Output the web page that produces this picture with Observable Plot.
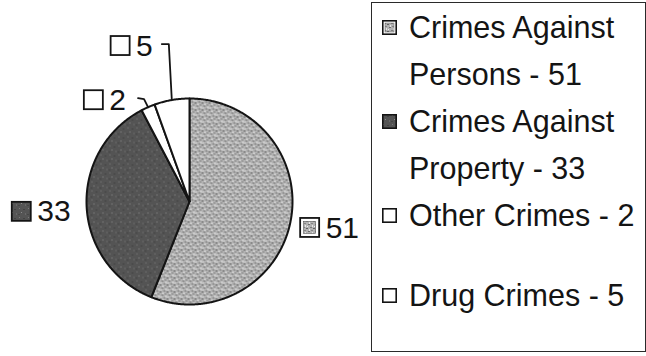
<!DOCTYPE html>
<html><head><meta charset="utf-8">
<script src="https://cdn.jsdelivr.net/npm/d3@7"></script>
<script src="https://cdn.jsdelivr.net/npm/@observablehq/plot@0.6"></script>
<style>
html,body{margin:0;padding:0;background:#fff;}
#wrap{position:relative;width:646px;height:356px;overflow:hidden;font-family:"Liberation Sans",Arial,sans-serif;color:#141414;}
#chart{position:absolute;left:0;top:0;}
#legend{position:absolute;left:371px;top:2px;width:275px;height:350px;box-sizing:border-box;border:1.6px solid #2a2a2a;}
.item{position:absolute;left:0;right:0;font-size:30.5px;line-height:47px;}
.sw{position:absolute;left:10px;top:16px;}
.txt{position:absolute;left:37px;top:0;white-space:pre;}
</style></head>
<body>
<svg width="0" height="0" style="position:absolute">
  <defs>
    <pattern id="persons" patternUnits="userSpaceOnUse" width="7" height="7">
      <rect width="7" height="7" fill="#b2b2b2"/>
      <rect x="0" y="0" width="2" height="1" fill="#6e6e6e"/>
      <rect x="4" y="1" width="1" height="2" fill="#e4e4e4"/>
      <rect x="2" y="3" width="2" height="1" fill="#7c7c7c"/>
      <rect x="5" y="4" width="2" height="1" fill="#626262"/>
      <rect x="1" y="5" width="1" height="2" fill="#e6e6e6"/>
      <rect x="3" y="6" width="2" height="1" fill="#858585"/>
      <rect x="6" y="2" width="1" height="1" fill="#efefef"/>
    </pattern>
    <pattern id="property" patternUnits="userSpaceOnUse" width="9" height="9">
      <rect width="9" height="9" fill="#545454"/>
      <rect x="1" y="1" width="1" height="1" fill="#7a7a7a"/>
      <rect x="5" y="2" width="2" height="1" fill="#424242"/>
      <rect x="3" y="5" width="1" height="1" fill="#8c8c8c"/>
      <rect x="7" y="6" width="1" height="2" fill="#686868"/>
      <rect x="0" y="7" width="2" height="1" fill="#454545"/>
    </pattern>
  </defs>
</svg>
<div id="wrap">
  <div id="chart"></div>
  <div id="legend"></div>
</div>
<script>
// ---- data ----
const categories = ["Crimes Against Persons", "Crimes Against Property", "Other Crimes", "Drug Crimes"];
const values = [51, 33, 2, 5];
const legendLabels = ["Crimes Against\nPersons - 51", "Crimes Against\nProperty - 33", "Other Crimes - 2", "Drug Crimes - 5"];
const sliceFills = ["url(#persons)", "url(#property)", "#ffffff", "#ffffff"];

// ---- layout ----
const W = 370, H = 356, R = 103, CX = 189, CY = 201;
const FONT = 30, SW = 19, GAP = 6;
const INK = "#141414";
// pixel offsets for each pie label relative to the slice's mid-arc point
const labelLayout = [
  {anchor: "start", dx: 10, dy: 7, leader: null},
  {anchor: "end", dx: -16, dy: 5, leader: null},
  {anchor: "end", dx: -12, dy: 2, leader: [[-4, -8], [-10, -9]]},
  {anchor: "end", dx: -9, dy: 2, leader: [[-3, -56], [-10, -56]]}
];
const legendTops = [0.6, 94.6, 188.6, 268.6];

const ctx = document.createElement("canvas").getContext("2d");
ctx.font = `${FONT}px "Liberation Sans", Arial, sans-serif`;

const arcs = d3.pie().sort(null).value(d => d)(values);

// slice polygons in unit-radius coordinates (y up)
const slicePts = [];
arcs.forEach((a, i) => {
  slicePts.push({k: i, x: 0, y: 0});
  const n = Math.max(2, Math.ceil((a.endAngle - a.startAngle) / (Math.PI / 360)));
  for (let j = 0; j <= n; j++) {
    const t = a.startAngle + (a.endAngle - a.startAngle) * j / n;
    slicePts.push({k: i, x: Math.sin(t), y: Math.cos(t)});
  }
  slicePts.push({k: i, x: 0, y: 0});
});

// labels
const px = v => v / R;        // pixel -> data (x)
const py = v => -v / R;       // pixel (down) -> data (y up)
const labels = [], swatches = [], leaders = [];
arcs.forEach((a, i) => {
  const mid = (a.startAngle + a.endAngle) / 2;
  const ax = Math.sin(mid), ay = Math.cos(mid);
  const L = labelLayout[i];
  let bx = ax, by = ay;
  if (L.leader) {
    leaders.push({k: i, x: ax, y: ay});
    L.leader.forEach(([dx, dy]) => leaders.push({k: i, x: ax + px(dx), y: ay + py(dy)}));
    const last = L.leader[L.leader.length - 1];
    bx = ax + px(last[0]); by = ay + py(last[1]);
  }
  const txt = String(values[i]);
  const w = ctx.measureText(txt).width;
  const refX = bx + px(L.dx), refY = by + py(L.dy);
  let sx1, tx;
  if (L.anchor === "start") { sx1 = refX; tx = refX + px(SW + GAP); }
  else { tx = refX - px(w); sx1 = tx - px(GAP + SW); }
  labels.push({k: i, x: tx, y: refY, text: txt});
  // y1 = bottom, y2 = top (y axis points up)
  swatches.push({k: i, x1: sx1, x2: sx1 + px(SW), y1: refY - SW / 2 / R, y2: refY + SW / 2 / R, fill: sliceFills[i]});
});

const inset = 3.5 / R;
const inner = swatches.filter(s => s.k === 0).map(s => ({...s, x1: s.x1 + inset, x2: s.x2 - inset, y1: s.y1 + inset, y2: s.y2 - inset}));

const chart = Plot.plot({
  width: W, height: H,
  marginTop: 0, marginRight: 0, marginBottom: 0, marginLeft: 0,
  x: {domain: [-CX / R, (W - CX) / R], range: [0, W], axis: null},
  y: {domain: [-(H - CY) / R, CY / R], range: [H, 0], axis: null},
  color: {type: "identity"},
  style: {background: "transparent", overflow: "visible"},
  marks: [
    Plot.line(slicePts, {x: "x", y: "y", z: "k", fill: d => sliceFills[d.k], stroke: INK, strokeWidth: 2, strokeLinejoin: "round", curve: "linear"}),
    Plot.line(leaders, {x: "x", y: "y", z: "k", stroke: INK, strokeWidth: 1.8}),
    Plot.rect(swatches, {x1: "x1", x2: "x2", y1: "y1", y2: "y2", fill: d => d.k === 0 ? "#ffffff" : d.fill, stroke: INK, strokeWidth: 1.8}),
    Plot.rect(inner, {x1: "x1", x2: "x2", y1: "y1", y2: "y2", fill: "fill", stroke: "#555", strokeWidth: 0.6}),
    Plot.text(labels, {x: "x", y: "y", text: "text", textAnchor: "start", lineAnchor: "middle", fontSize: FONT, fontFamily: '"Liberation Sans", Arial, sans-serif', fill: INK})
  ]
});
document.getElementById("chart").appendChild(chart);

// legend
const leg = d3.select("#legend");
categories.forEach((c, i) => {
  const it = leg.append("div").attr("class", "item").style("top", legendTops[i] + "px");
  const s = it.append("svg").attr("class", "sw").attr("width", 15).attr("height", 15);
  s.append("rect").attr("x", 0.8).attr("y", 0.8).attr("width", 13.4).attr("height", 13.4)
    .attr("fill", i === 0 ? "#fff" : sliceFills[i]).attr("stroke", INK).attr("stroke-width", 1.6);
  if (i === 0) s.append("rect").attr("x", 3).attr("y", 3).attr("width", 9).attr("height", 9)
    .attr("fill", sliceFills[i]).attr("stroke", "#666").attr("stroke-width", 0.5);
  it.append("div").attr("class", "txt").text(legendLabels[i]);
});
</script>
</body></html>
